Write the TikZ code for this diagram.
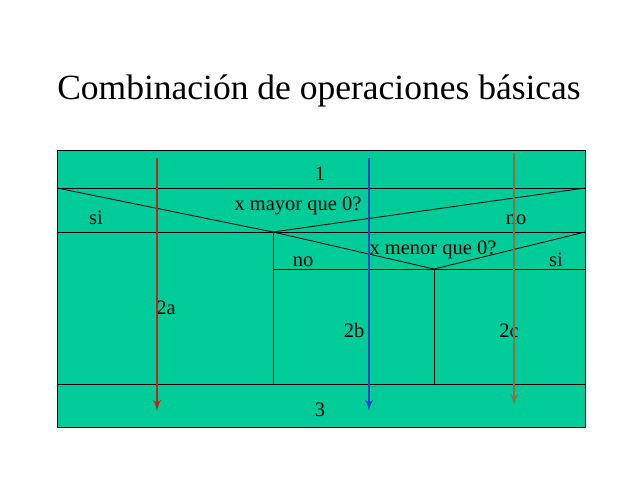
\documentclass[tikz,border=0pt]{standalone}
\usepackage{fontspec}
\setmainfont{Liberation Serif}
\usetikzlibrary{shapes, arrows}
\definecolor{boxgreen}{RGB}{0,204,153}
\definecolor{redflow}{RGB}{185,40,30}
\definecolor{blueflow}{RGB}{30,70,200}
\definecolor{brownflow}{RGB}{140,110,75}
\tikzstyle{lbl} = [font=\fontsize{20.5}{22}\selectfont, inner sep=0pt, anchor=base]
\tikzstyle{grid} = [draw, black, line width=0.8pt]
\tikzstyle{flow} = [draw, -latex', line width=2.8pt]

\begin{document}
\begin{tikzpicture}[x=1pt, y=-1pt]
    \useasboundingbox (0,0) rectangle (638,479);
    \node[font=\fontsize{35.5}{40}\selectfont, inner sep=0pt, anchor=base](title) at (319,99){Combinación de operaciones básicas};

    % outer box
    \coordinate (tl) at (57,150);
    \coordinate (br) at (585,427);
    \path[grid, fill=boxgreen] (tl) rectangle (br);

    % rows and columns
    \coordinate (r1l) at (57,188);   \coordinate (r1r) at (585,188);
    \coordinate (r2l) at (57,232);   \coordinate (r2r) at (585,232);
    \coordinate (r2m) at (273,232);
    \coordinate (r3l) at (273,269);  \coordinate (r3r) at (585,269);
    \coordinate (r3m) at (434,269);
    \coordinate (r4l) at (57,384);   \coordinate (r4r) at (585,384);
    \coordinate (c1b) at (273,384);  \coordinate (c2b) at (434,384);
    \path[grid] (r1l) -- (r1r);
    \path[grid] (r2l) -- (r2r);
    \path[grid] (r3l) -- (r3r);
    \path[grid] (r4l) -- (r4r);
    \path[grid] (r2m) -- (c1b);
    \path[grid] (r3m) -- (c2b);
    \path[grid] (r1l) -- (r2m) -- (r1r);
    \path[grid] (r2m) -- (r3m) -- (r2r);

    % labels
    \node[lbl](one) at (320,180){1};
    \node[lbl](cond1) at (298,210){x mayor que 0?};
    \node[lbl](si1) at (96,224){si};
    \node[lbl](no1) at (516,224){no};
    \node[lbl](cond2) at (433,254){x menor que 0?};
    \node[lbl](no2) at (303,266){no};
    \node[lbl](si2) at (556,266){si};
    \node[lbl](twoa) at (166,314){2a};
    \node[lbl](twob) at (354,337){2b};
    \node[lbl](twoc) at (509,337){2c};
    \node[lbl](three) at (320,416){3};

    % flow arrows
    \coordinate (as) at (157,158);  \coordinate (ae) at (157,411);
    \coordinate (bs) at (369,158);  \coordinate (be) at (369,411);
    \coordinate (cs) at (514,153);  \coordinate (ce) at (514,405);
    \path[flow, redflow] (as) -- (ae);
    \path[flow, blueflow] (bs) -- (be);
    \path[flow, brownflow] (cs) -- (ce);
\end{tikzpicture}
\end{document}
